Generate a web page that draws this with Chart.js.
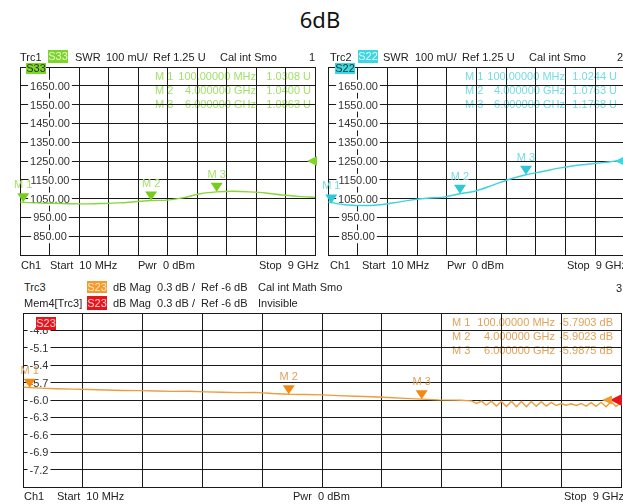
<!DOCTYPE html>
<html>
<head>
<meta charset="utf-8">
<script src="https://cdn.jsdelivr.net/npm/chart.js@4/dist/chart.umd.min.js"></script>
<style>
  body { margin: 0; width: 623px; height: 504px; overflow: hidden; background: #fff; position: relative;
         font-family: "Liberation Sans", Arial, sans-serif; }
  .t { position: absolute; font-size: 11px; line-height: 14px; color: #222; white-space: pre; }
  .tag { position: absolute; font-size: 11px; line-height: 13px; text-align: center; }
  canvas { position: absolute; }
  #title { position: absolute; left: 0; width: 640px; top: 4px; text-align: center;
           font: 22px "Noto Sans", sans-serif; color: #111; }
</style>
</head>
<body>
<div id="title">6dB</div>
<canvas id="c33" width="307" height="200" style="left:14px;top:61px"></canvas>
<canvas id="c22" width="309" height="200" style="left:322px;top:61px"></canvas>
<canvas id="c23" width="610" height="186" style="left:17px;top:307px"></canvas>
<script>
// frequency axis in GHz, 10 MHz .. 9 GHz
var freqTop = [0.01, 0.5, 1, 1.5, 2, 2.5, 3, 3.5, 4, 4.5, 5, 5.5, 6, 6.5, 7, 7.5, 8, 8.5, 9];
// SWR in mU
var s33 = [1031, 1027, 1025, 1023, 1022, 1024, 1027, 1033, 1040, 1042, 1055, 1076, 1086, 1089, 1086, 1080, 1069, 1062, 1057];
var s22 = [1032, 1017, 1013, 1016, 1028, 1042, 1052, 1058, 1076, 1092, 1122, 1153, 1177, 1194, 1212, 1226, 1235, 1245, 1256];

var freqBottom = [0.01, 0.25, 0.5, 0.75, 1, 1.25, 1.5, 1.75, 2, 2.25, 2.5, 2.75, 3, 3.25, 3.5, 3.75, 4, 4.25,
  4.5, 4.75, 5, 5.25, 5.5, 5.75, 6, 6.25, 6.5,
  6.6, 6.675, 6.75, 6.825, 6.9, 6.975, 7.05, 7.125, 7.2, 7.275, 7.35, 7.425, 7.5, 7.575, 7.65, 7.725, 7.8,
  7.875, 7.95, 8.025, 8.1, 8.175, 8.25, 8.325, 8.4, 8.475, 8.55, 8.625, 8.7, 8.775, 8.85, 8.925, 9];
// S23 dB Mag
var s23 = [-5.780, -5.795, -5.805, -5.812, -5.820, -5.828, -5.835, -5.838, -5.845, -5.852, -5.848, -5.860, -5.866, -5.872,
  -5.868, -5.888, -5.900, -5.905, -5.912, -5.925, -5.935, -5.945, -5.958, -5.972, -5.985, -5.998, -6.003,
  -6.005, -6.010, -6.015, -6.060, -6.020, -6.090, -6.020, -6.105, -6.025, -6.110, -6.020, -6.115, -6.025,
  -6.115, -6.025, -6.110, -6.030, -6.105, -6.040, -6.095, -6.060, -6.090, -6.065, -6.095, -6.060, -6.105,
  -6.045, -6.110, -6.040, -6.115, -6.030, -6.110, -6.050];

var markerFreq = [0.1, 4, 6];
var markerFreqText = ['100.00000 MHz', '4.000000 GHz', '6.000000 GHz'];
var s33Markers = [1030.8, 1040.0, 1086.3];
var s22Markers = [1024.4, 1076.3, 1176.8];
var s23Markers = [-5.7903, -5.9023, -5.9875];

function pts(xs, ys) {
  return xs.map(function (x, i) { return { x: x, y: ys[i] }; });
}

var FONT = '11px "Liberation Sans", Arial, sans-serif';

var vnaPlugin = {
  id: 'vna',
  beforeDraw: function (chart, args, o) {
    // marker readout table, drawn under the grid
    var ctx = chart.ctx, a = chart.chartArea;
    ctx.save();
    ctx.font = FONT;
    ctx.textBaseline = 'middle';
    ctx.fillStyle = o.tableColor;
    for (var i = 0; i < o.markers.length; i++) {
      var ty = a.top + 10 + i * 14;
      ctx.textAlign = 'left';
      ctx.fillText('M ' + (i + 1), a.right - o.cols[0], ty);
      ctx.textAlign = 'right';
      ctx.fillText(markerFreqText[i], a.right - o.cols[1], ty);
      ctx.fillText(o.readout(o.markers[i]), a.right - o.cols[2], ty);
    }
    ctx.restore();
  },
  beforeDatasetsDraw: function (chart, args, o) {
    var ctx = chart.ctx, a = chart.chartArea, ys = chart.scales.y;
    ctx.save();
    ctx.font = FONT;
    ctx.textBaseline = 'middle';
    ctx.textAlign = 'center';
    var ticks = ys.ticks;
    for (var i = 1; i < ticks.length - 1; i++) {
      var py = ys.getPixelForValue(ticks[i].value);
      var label = ticks[i].value.toFixed(o.decimals);
      var w = ctx.measureText(label).width;
      ctx.fillStyle = '#fff';
      ctx.fillRect(a.left + o.labelX - w / 2 - 2, py - 6, w + 4, 13);
      ctx.fillStyle = '#333';
      ctx.fillText(label, a.left + o.labelX, py + 1);
    }
    ctx.restore();
  },
  afterDatasetsDraw: function (chart, args, o) {
    var ctx = chart.ctx, a = chart.chartArea, xs = chart.scales.x, ys = chart.scales.y;
    ctx.save();
    ctx.font = FONT;
    ctx.textAlign = 'center';
    ctx.textBaseline = 'middle';
    // reference level arrows at the right edge
    o.refs.forEach(function (r) {
      var py = ys.getPixelForValue(o.refValue);
      var tip = a.right - r.off;
      ctx.fillStyle = r.color;
      ctx.beginPath();
      ctx.moveTo(tip, py);
      ctx.lineTo(tip + r.len, py - r.h / 2);
      ctx.lineTo(tip + r.len, py + r.h / 2);
      ctx.closePath();
      ctx.fill();
    });
    // markers
    for (var i = 0; i < o.markers.length; i++) {
      var px = xs.getPixelForValue(markerFreq[i]);
      var py = ys.getPixelForValue(o.markers[i]);
      ctx.fillStyle = o.markerColor;
      ctx.beginPath();
      ctx.moveTo(px, py);
      ctx.lineTo(px - 6, py - 9);
      ctx.lineTo(px + 6, py - 9);
      ctx.closePath();
      ctx.fill();
      ctx.fillStyle = o.tableColor;
      ctx.fillText('M ' + (i + 1), px, py - 17);
    }
    ctx.restore();
  }
};

function makeChart(id, xs, ys, color, tension, yMin, yMax, yStep, plug) {
  return new Chart(document.getElementById(id), {
    type: 'line',
    data: {
      datasets: [{
        data: pts(xs, ys),
        borderColor: color,
        borderWidth: 1.4,
        pointRadius: 0,
        tension: tension,
        fill: false
      }]
    },
    options: {
      responsive: false,
      animation: false,
      events: [],
      layout: { padding: 6 },
      plugins: { legend: { display: false }, tooltip: { enabled: false }, vna: plug },
      scales: {
        x: {
          type: 'linear', min: 0, max: 9,
          ticks: { display: false, stepSize: 0.9 },
          grid: { color: '#1a1a1a', lineWidth: 1, drawTicks: false },
          border: { color: '#1a1a1a' }
        },
        y: {
          min: yMin, max: yMax,
          ticks: { display: false, stepSize: yStep },
          grid: { color: '#1a1a1a', lineWidth: 1, drawTicks: false },
          border: { color: '#1a1a1a' }
        }
      }
    },
    plugins: [vnaPlugin]
  });
}

makeChart('c33', freqTop, s33, '#8bd63a', 0.3, 750, 1750, 100, {
  decimals: 2, labelX: 30, markers: s33Markers, markerColor: '#78cc1c', tableColor: '#a4e06c',
  cols: [160, 59, 4], refValue: 1250,
  readout: function (v) { return (v / 1000).toFixed(4) + ' U'; },
  refs: [{ off: 8, len: 10, h: 10, color: '#7fd42a' }]
});
makeChart('c22', freqTop, s22, '#3fd3dc', 0.3, 750, 1750, 100, {
  decimals: 2, labelX: 30, markers: s22Markers, markerColor: '#2ec8d6', tableColor: '#74dce4',
  cols: [160, 60, 8], refValue: 1250,
  readout: function (v) { return (v / 1000).toFixed(4) + ' U'; },
  refs: [{ off: 10, len: 10, h: 10, color: '#3fd6df' }]
});
makeChart('c23', freqBottom, s23, '#ee9d3c', 0, -7.5, -4.5, 0.3, {
  decimals: 1, labelX: 16, markers: s23Markers, markerColor: '#f08a12', tableColor: '#e0a25a',
  cols: [169, 66, 8], refValue: -6,
  readout: function (v) { return v.toFixed(4) + ' dB'; },
  refs: [{ off: 11, len: 12, h: 12, color: '#e8141b' }, { off: 19, len: 10, h: 9, color: '#f39a2b' }]
});

// instrument header / footer texts
function txt(s, x, y, color) {
  var d = document.createElement('div');
  d.className = 't';
  d.textContent = s;
  d.style.left = x + 'px';
  d.style.top = (y - 7) + 'px';
  if (color) d.style.color = color;
  document.body.appendChild(d);
}
function tag(s, x, y, w, h, bg, fg) {
  var d = document.createElement('div');
  d.className = 'tag';
  d.textContent = s;
  d.style.left = x + 'px';
  d.style.top = y + 'px';
  d.style.width = w + 'px';
  d.style.height = h + 'px';
  d.style.lineHeight = h + 'px';
  d.style.background = bg;
  d.style.color = fg;
  document.body.appendChild(d);
}

txt('Trc1', 20, 57); tag('S33', 48, 50, 20, 13, '#7fd42a', '#e8f8d8');
txt('SWR', 75, 57); txt('100 mU/', 106, 57); txt('Ref 1.25 U', 153, 57); txt('Cal int Smo', 220, 57); txt('1', 309, 57);
tag('S33', 26, 63, 20, 11, '#7fd42a', '#1f3a08');
txt('Ch1', 21, 265); txt('Start  10 MHz', 50, 265); txt('Pwr  0 dBm', 138, 265); txt('Stop  9 GHz', 259, 265);

txt('Trc2', 330, 57); tag('S22', 358, 50, 20, 13, '#3fd6df', '#e0fafc');
txt('SWR', 383, 57); txt('100 mU/', 415, 57); txt('Ref 1.25 U', 462, 57); txt('Cal int Smo', 529, 57); txt('2', 617, 57);
tag('S22', 335, 63, 20, 11, '#3fd6df', '#0d3a40');
txt('Ch1', 330, 265); txt('Start  10 MHz', 362, 265); txt('Pwr  0 dBm', 447, 265); txt('Stop  9 GHz', 567, 265);

txt('Trc3', 24, 287); tag('S23', 87, 281, 20, 12, '#f39a2b', '#fde6c8');
txt('dB Mag  0.3 dB /  Ref -6 dB', 113, 287); txt('Cal int Math Smo', 258, 287); txt('3', 616, 288);
txt('Mem4[Trc3]', 24, 303); tag('S23', 87, 296, 20, 14, '#e8141b', '#fbd0d0');
txt('dB Mag  0.3 dB /  Ref -6 dB', 113, 303); txt('Invisible', 258, 303);
tag('S23', 36, 317, 20, 13, '#e8141b', '#fbd0d0');
txt('Ch1', 24, 496); txt('Start  10 MHz', 57, 496); txt('Pwr  0 dBm', 293, 496); txt('Stop  9 GHz', 564, 496);
</script>
</body>
</html>
